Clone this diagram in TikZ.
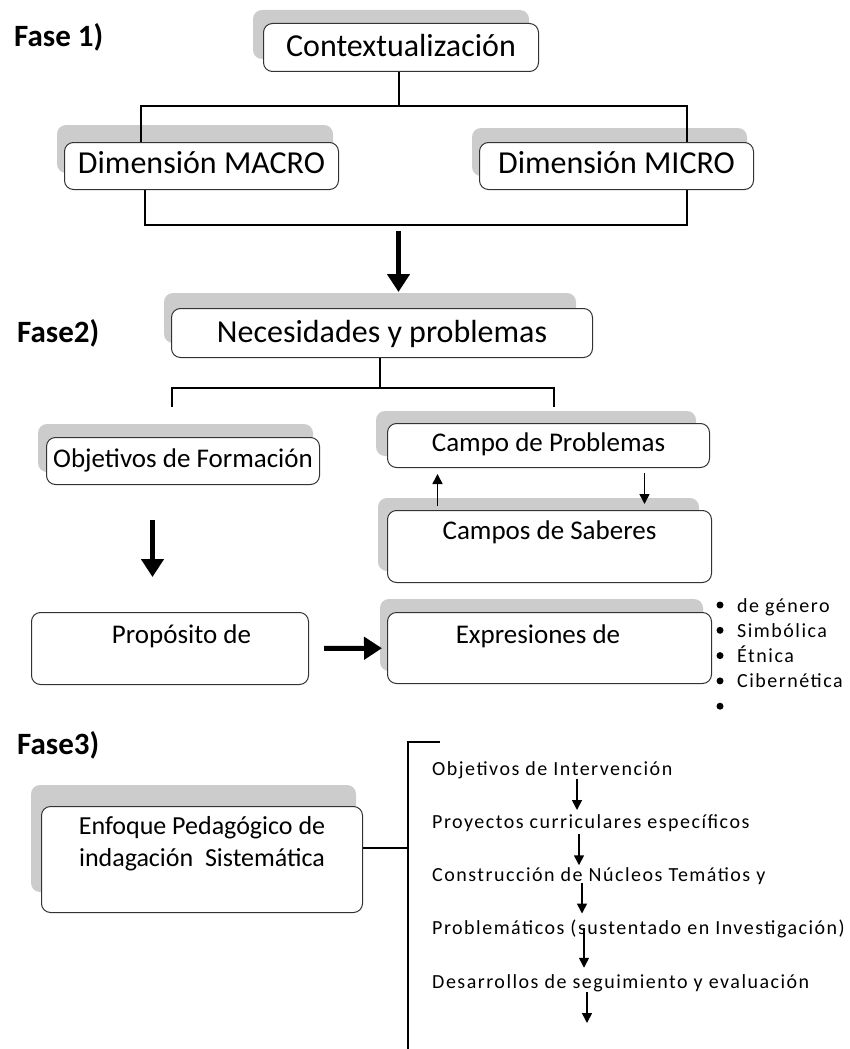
\documentclass[tikz,border=0pt]{standalone}
\usepackage{fontspec}
\setmainfont{Carlito}
\newfontfamily\spacedfont[LetterSpace=7.5]{Carlito}
\usetikzlibrary{positioning, arrows.meta, calc}
\pgfdeclarelayer{background}
\pgfsetlayers{background,main}
\newcommand{\Backdrop}[4]{%
  \begin{pgfonlayer}{background}
    \fill[backdrop] ([shift={(#2,#3)}]#1.north west) rectangle ([shift={(#4,#3)}]#1.south east);
  \end{pgfonlayer}}
\tikzset{
    box/.style={draw=black!80, line width=1pt, fill=white, rounded corners=9pt, inner sep=0pt, anchor=north west},
    backdrop/.style={fill=black!20, rounded corners=9pt},
    phase/.style={font=\fontsize{31}{36}\selectfont\bfseries, anchor=base west, inner sep=0pt},
    bigtext/.style={font=\fontsize{32}{38}\selectfont},
    midtext/.style={font=\fontsize{27}{32}\selectfont},
    listtext/.style={font=\spacedfont\fontsize{20}{24}\selectfont, anchor=base west, inner sep=0pt},
    dot/.style={circle, fill, inner sep=0pt, minimum size=7pt},
    conn/.style={line width=2pt},
    bigarrow/.style={-{Triangle[width=22pt,length=18pt]}, line width=5pt},
    flow/.style={-{Triangle[width=10pt,length=10pt]}, line width=1.6pt},
}
\begin{document}
\begin{tikzpicture}[x=1pt, y=-1pt]
    \useasboundingbox (0,0) rectangle (850,1049);

    % Fase 1
    \node[phase] (f1) at (14,47) {Fase 1)};
    \node[box, bigtext, minimum width=275pt, text height=33pt, text depth=15pt] (ctx) at (263,23) {Contextualización};
    \node[box, bigtext, minimum width=274pt, text height=31pt, text depth=16pt] (macro) at (64,142) {Dimensión MACRO};
    \node[box, bigtext, minimum width=274pt, text height=31pt, text depth=16pt] (micro) at (479,142) {Dimensión MICRO};
    \Backdrop{ctx}{-10}{-13}{-10}
    \Backdrop{macro}{-7}{-17}{-6}
    \Backdrop{micro}{-7}{-14}{-7}

    \draw[conn] ([xshift=-2.5pt]ctx.south) -- ++(0,34) coordinate (split1);
    \draw[conn] ([xshift=-61pt]macro.north) |- (split1) -| ([xshift=70pt]micro.north);
    \draw[conn] ([xshift=-57pt]macro.south) -- ++(0,35) -| ([xshift=70pt]micro.south);

    % Fase 2
    \node[phase] (f2) at (17,342) {Fase2)};
    \node[box, bigtext, minimum width=421pt, text height=34pt, text depth=15pt] (nec) at (171,308) {Necesidades y problemas};
    \node[box, midtext, minimum width=273pt, text height=30pt, text depth=17pt] (objf) at (46,437) {Objetivos de Formación};
    \node[box, midtext, minimum width=322pt, text height=28pt, text depth=16pt] (campo) at (387,423) {Campo de Problemas};
    \node[box, midtext, minimum width=324pt, text height=29pt, text depth=43pt] (saberes) at (387,510) {Campos de Saberes};
    \node[box, midtext, minimum width=277pt, text height=31pt, text depth=41pt] (prop) at (31,612) {\hspace*{23pt}Propósito de};
    \node[box, midtext, minimum width=324pt, text height=31pt, text depth=40pt] (expr) at (387,612) {Expresiones de\hspace*{23pt}};
    \Backdrop{nec}{-7}{-15}{-17}
    \Backdrop{objf}{-8}{-13}{-7}
    \Backdrop{campo}{-11}{-12}{-14}
    \Backdrop{saberes}{-9}{-12}{-13}
    \Backdrop{expr}{-7}{-13}{-9}

    \draw[bigarrow] ([shift={(-2.5,159)}]ctx.south) -- ([shift={(16.5,-16)}]nec.north);
    \draw[conn] ([xshift=-2.5pt]nec.south) -- ++(0,30) coordinate (split2);
    \draw[conn] ([shift={(-11.5,-30)}]objf.north) |- (split2) -| ([shift={(5,-16)}]campo.north);
    \draw[flow] ([shift={(-112,-4)}]saberes.north) -- ([shift={(-111,6)}]campo.south);
    \draw[flow] ([shift={(96,5)}]campo.south) -- ([shift={(95,-6)}]saberes.north);
    \draw[bigarrow] ([shift={(-30.5,35)}]objf.south) -- ([shift={(-17.5,-35)}]prop.north);
    \draw[bigarrow, shorten <=15pt, shorten >=5pt] (prop) -- (expr);

    \foreach \i in {1,...,5}
        \node[dot] (dot\i) at (720,{605+25.3*(\i-1)}) {};
    \foreach \txt [count=\i] in {de género, Simbólica, Étnica, Cibernética}
        \node[listtext] (kind\i) at (737,{612+25.3*(\i-1)}) {\txt};

    % Fase 3
    \node[phase] (f3) at (17,754) {Fase3)};
    \node[box, font=\fontsize{26}{32}\selectfont, align=center, minimum width=321pt, text height=60pt, text depth=46pt] (enf) at (41,806) {Enfoque Pedagógico de\\indagación \ Sistemática};
    \Backdrop{enf}{-10}{-21}{-7}

    \coordinate (brtip) at (440,742);
    \coordinate (brtop) at (408,742);
    \coordinate (brend) at (408,1049);
    \draw[conn] (brtip) -- (brtop) -- (brend);
    \draw[conn] ([yshift=12pt]enf.east) -- ([yshift=12pt]enf.east -| brtop);

    \foreach \txt [count=\i] in {Objetivos de Intervención, Proyectos curriculares específicos, Construcción de Núcleos Temátios y, {Problemáticos (sustentado en Investigación)}, Desarrollos de seguimiento y evaluación}
        \node[listtext] (act\i) at (432,{775+53.25*(\i-1)}) {\txt};
    \foreach \i/\dx/\dy/\len in {1/145/4/31, 2/147/6/31, 3/150/1/31, 4/152/-7/40, 5/155/4/31}
        \draw[flow] ([shift={(\dx,\dy)}]act\i.base west) -- ++(0,\len);
\end{tikzpicture}
\end{document}
